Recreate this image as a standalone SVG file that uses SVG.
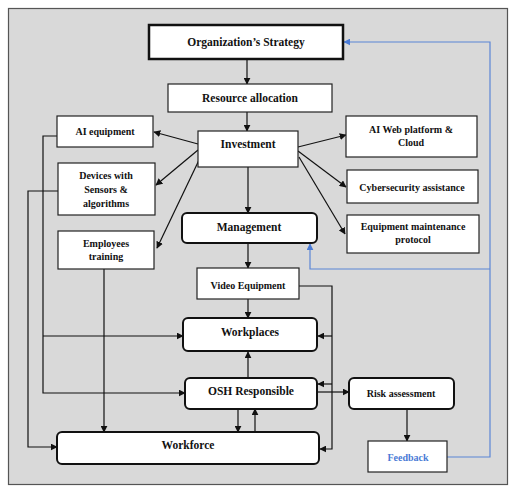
<svg xmlns="http://www.w3.org/2000/svg" width="517" height="492" viewBox="0 0 517 492">
<style>
.box{fill:#fff;stroke:#222;stroke-width:1.2}
.rbox{fill:#fff;stroke:#111;stroke-width:2}
.thick{fill:#fff;stroke:#111;stroke-width:2.5}
.t{font-family:'Liberation Serif','DejaVu Serif',serif;font-weight:bold;fill:#111;text-anchor:middle}
.m{font-size:11.5px}
.s{font-size:10px}
.ln{fill:none;stroke:#111;stroke-width:1.2}
.bl{fill:none;stroke:#5b85d6;stroke-width:1.2}
</style>
<defs>
<marker id="ah" viewBox="0 0 10 10" refX="9" refY="5" markerWidth="7" markerHeight="7" orient="auto" markerUnits="userSpaceOnUse"><path d="M0,0 L10,5 L0,10 z" fill="#111"/></marker>
<marker id="ahb" viewBox="0 0 10 10" refX="9" refY="5" markerWidth="7" markerHeight="7" orient="auto" markerUnits="userSpaceOnUse"><path d="M0,0 L10,5 L0,10 z" fill="#4a7bd6"/></marker>
</defs>
<rect x="0" y="0" width="517" height="492" fill="#fff"/>
<rect x="8.5" y="8.5" width="499" height="476" fill="#d9d9d9" stroke="#555" stroke-width="1.2"/>

<g id="connectors">
<line class="ln" x1="247" y1="59" x2="247" y2="84" marker-end="url(#ah)"/>
<line class="ln" x1="247" y1="112" x2="247" y2="131" marker-end="url(#ah)"/>
<line class="ln" x1="198" y1="144" x2="154" y2="132" marker-end="url(#ah)"/>
<line class="ln" x1="198" y1="150" x2="156" y2="185" marker-end="url(#ah)"/>
<line class="ln" x1="200" y1="158" x2="157" y2="248" marker-end="url(#ah)"/>
<line class="ln" x1="298" y1="147" x2="346" y2="135" marker-end="url(#ah)"/>
<line class="ln" x1="298" y1="151" x2="346" y2="187" marker-end="url(#ah)"/>
<line class="ln" x1="299" y1="157" x2="345" y2="234" marker-end="url(#ah)"/>
<line class="ln" x1="248" y1="167" x2="248" y2="213" marker-end="url(#ah)"/>
<line class="ln" x1="248" y1="243" x2="248" y2="268" marker-end="url(#ah)"/>
<line class="ln" x1="248" y1="299" x2="248" y2="318" marker-end="url(#ah)"/>
<line class="ln" x1="248" y1="378" x2="248" y2="352" marker-end="url(#ah)"/>
<line class="ln" x1="317" y1="392" x2="349" y2="392" marker-end="url(#ah)"/>
<line class="ln" x1="238" y1="409" x2="238" y2="432" marker-end="url(#ah)"/>
<line class="ln" x1="255" y1="432" x2="255" y2="409" marker-end="url(#ah)"/>
<line class="ln" x1="407" y1="409" x2="407" y2="441" marker-end="url(#ah)"/>
<polyline class="ln" points="57,136 43,136 43,393 185,393" marker-end="url(#ah)"/>
<line class="ln" x1="43" y1="336" x2="183" y2="336" marker-end="url(#ah)"/>
<polyline class="ln" points="58,191 28,191 28,447 57,447" marker-end="url(#ah)"/>
<line class="ln" x1="104" y1="269" x2="104" y2="432" marker-end="url(#ah)"/>
<polyline class="ln" points="299,286 332,286 332,449 320,449" marker-end="url(#ah)"/>
<line class="ln" x1="332" y1="336" x2="318" y2="336" marker-end="url(#ah)"/>
<line class="ln" x1="332" y1="384" x2="318" y2="384" marker-end="url(#ah)"/>
<polyline class="bl" points="447,457 490,457 490,42 344,42" marker-end="url(#ahb)"/>
<polyline class="bl" points="490,269 310,269 310,244" marker-end="url(#ahb)"/>
</g>

<g id="strategy"><rect class="thick" x="149" y="25" width="194" height="34"/><text class="t m" x="246" y="46">Organization’s Strategy</text></g>
<g id="resource"><rect class="box" x="168" y="84" width="164" height="28"/><text class="t m" x="250" y="102">Resource allocation</text></g>
<g id="ai-equipment"><rect class="box" x="57" y="116" width="96" height="31"/><text class="t s" x="105" y="135">AI equipment</text></g>
<g id="investment"><rect class="box" x="198" y="131" width="100" height="36"/><text class="t m" x="248" y="148">Investment</text></g>
<g id="ai-web"><rect class="box" x="346" y="116" width="131" height="41"/><text class="t s" x="411" y="133">AI Web platform &amp;</text><text class="t s" x="411" y="146">Cloud</text></g>
<g id="devices"><rect class="box" x="58" y="163" width="97" height="52"/><text class="t s" x="106" y="179">Devices with</text><text class="t s" x="106" y="193">Sensors &amp;</text><text class="t s" x="106" y="207">algorithms</text></g>
<g id="cyber"><rect class="box" x="347" y="170" width="131" height="33"/><text class="t s" x="412" y="191">Cybersecurity assistance</text></g>
<g id="management"><rect class="rbox" x="182" y="213" width="135" height="30" rx="5"/><text class="t m" x="249" y="231">Management</text></g>
<g id="maintenance"><rect class="box" x="347" y="215" width="132" height="38"/><text class="t s" x="413" y="230">Equipment maintenance</text><text class="t s" x="413" y="243">protocol</text></g>
<g id="training"><rect class="box" x="58" y="231" width="96" height="38"/><text class="t s" x="106" y="247">Employees</text><text class="t s" x="106" y="260">training</text></g>
<g id="video"><rect class="box" x="197" y="268" width="102" height="31"/><text class="t s" x="248" y="289">Video Equipment</text></g>
<g id="workplaces"><rect class="rbox" x="183" y="318" width="134" height="33" rx="5"/><text class="t m" x="250" y="336">Workplaces</text></g>
<g id="osh"><rect class="rbox" x="185" y="378" width="132" height="31" rx="5"/><text class="t m" x="251" y="395">OSH Responsible</text></g>
<g id="risk"><rect class="rbox" x="349" y="378" width="105" height="31" rx="5"/><text class="t s" x="401" y="397">Risk assessment</text></g>
<g id="workforce"><rect class="rbox" x="57" y="432" width="262" height="32" rx="5"/><text class="t m" x="188" y="449">Workforce</text></g>
<g id="feedback"><rect class="box" x="368" y="441" width="79" height="31"/><text class="t s" x="408" y="461" style="fill:#4a7bd6">Feedback</text></g>
</svg>
